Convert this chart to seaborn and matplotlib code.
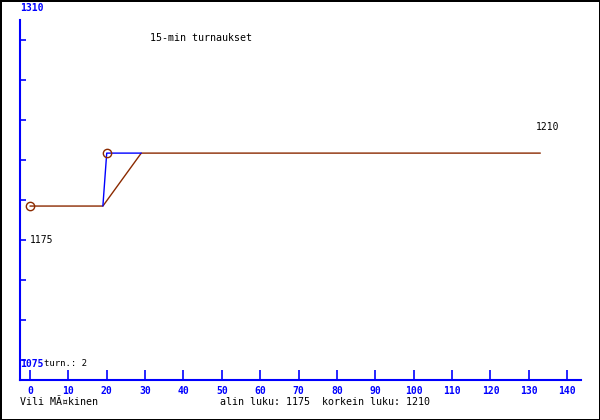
import numpy as np
import pandas as pd
import matplotlib
matplotlib.use("Agg")
import matplotlib.pyplot as plt
import matplotlib.transforms as mtransforms
import seaborn as sns

# DATA

brown_x = [0, 19, 29, 133]
brown_y = [1175, 1175, 1210, 1210]
blue_x = [19, 20, 29]
blue_y = [1175, 1210, 1210]
mark_x = [0, 20]
mark_y = [1175, 1210]
x_ticks = list(range(0, 150, 10))
min_val = 1175
max_val = 1210
turns = 2

BLUE = "#0000ff"
BROWN = "#8b2a00"

sns.set_style("white")
plt.rcParams["font.family"] = ["DejaVu Sans Mono"]
plt.rcParams["text.color"] = "black"

fig = plt.figure(figsize=(6, 4.2), dpi=100)
fig.patch.set_edgecolor("black")
fig.patch.set_linewidth(2)

# axes box: pixels 20..581 horizontally, 20..380 vertically
ax = fig.add_axes([20 / 600, 40 / 420, 561 / 600, 360 / 420])
xmin, xmax = -2.6, 143.6
ymin, ymax = 1060, 1298
ax.set_xlim(xmin, xmax)
ax.set_ylim(ymin, ymax)

df_brown = pd.DataFrame({"x": brown_x, "y": brown_y})
df_blue = pd.DataFrame({"x": blue_x, "y": blue_y})
sns.lineplot(data=df_brown, x="x", y="y", color=BROWN, lw=1, ax=ax, sort=False)
sns.lineplot(data=df_blue, x="x", y="y", color=BLUE, lw=1, ax=ax, sort=False)
ax.plot(mark_x, mark_y, "o", mfc="none", mec=BROWN, ms=6, mew=1)

for s in ["top", "right"]:
    ax.spines[s].set_visible(False)
for s in ["left", "bottom"]:
    ax.spines[s].set_color(BLUE)
    ax.spines[s].set_linewidth(1.5)

ax.set_xticks(x_ticks)
ax.set_xticklabels([str(t) for t in x_ticks], color=BLUE, fontsize=7, fontweight="bold")
ax.tick_params(axis="x", bottom=True, direction="in", length=7.5, width=1.2, color=BLUE, pad=4)
yt = [ymin + (20 + 40 * k) / 360 * (ymax - ymin) for k in range(9)]
ax.set_yticks(yt)
ax.set_yticklabels([])
ax.tick_params(axis="y", left=True, direction="in", length=4, width=1.2, color=BLUE)
ax.set_xlabel("")
ax.set_ylabel("")

off = lambda dx, dy: ax.transData + mtransforms.ScaledTranslation(dx / 100, dy / 100, fig.dpi_scale_trans)

fig.text(20 / 600, 1 - 8 / 420, "1310", color=BLUE, fontsize=7, fontweight="bold", va="center")
fig.text(150 / 600, 1 - 38 / 420, "15-min turnaukset", fontsize=7.2, va="center")
ax.text(0, min_val, str(min_val), fontsize=7, va="center", transform=off(0, -34))
ax.text(133, max_val, str(max_val), fontsize=7, va="center", ha="left", transform=off(-4, 26))
fig.text(20 / 600, 1 - 364 / 420, "1075", color=BLUE, fontsize=7, fontweight="bold", va="center")
fig.text(44 / 600, 1 - 364 / 420, "turn.: %d" % turns, fontsize=6.5, va="center")
fig.text(20 / 600, 1 - 402 / 420, "Vili MÃ¤kinen", fontsize=7.2, va="center")
fig.text(220 / 600, 1 - 402 / 420, "alin luku: %d  korkein luku: %d" % (min_val, max_val),
         fontsize=7.2, va="center")

fig.savefig("out.png", dpi=100, edgecolor=fig.get_edgecolor())
